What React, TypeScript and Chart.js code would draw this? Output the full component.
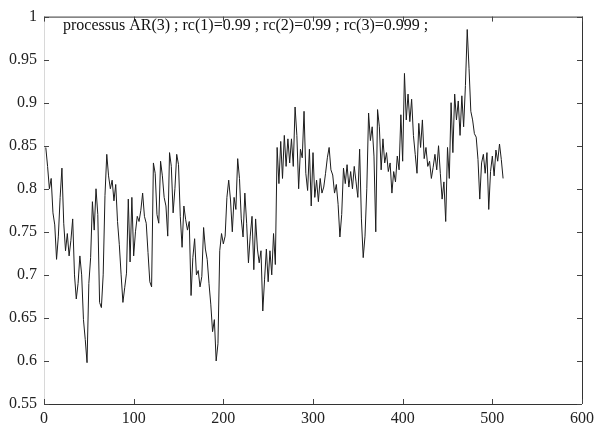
import { useEffect, useRef } from "react";
import { Chart, registerables } from "chart.js";

Chart.register(...registerables);

const TITLE = "processus AR(3) ; rc(1)=0.99 ; rc(2)=0.99 ; rc(3)=0.999 ;";
const xTicks = [0, 100, 200, 300, 400, 500, 600];
const yTicks = [0.55, 0.6, 0.65, 0.7, 0.75, 0.8, 0.85, 0.9, 0.95, 1];
const SAMPLE_STEP = 2;

// samples 2..128
const seg1 = [
  0.848, 0.826, 0.8, 0.812, 0.772, 0.758, 0.718, 0.745,
  0.79, 0.824, 0.76, 0.728, 0.748, 0.722, 0.74, 0.765,
  0.7, 0.672, 0.69, 0.722, 0.7, 0.648, 0.625, 0.598,
  0.69, 0.72, 0.785, 0.752, 0.8, 0.77, 0.668, 0.662,
  0.7, 0.792, 0.84, 0.815, 0.8, 0.81, 0.786, 0.805,
  0.762, 0.735, 0.7, 0.668, 0.685, 0.702, 0.788, 0.715,
  0.79, 0.722, 0.75, 0.768, 0.762, 0.775, 0.795, 0.768,
  0.76, 0.726, 0.692, 0.686, 0.83, 0.818, 0.77, 0.76,
];
// samples 130..256
const seg2 = [
  0.832, 0.815, 0.79, 0.78, 0.745, 0.842, 0.826, 0.772,
  0.8, 0.84, 0.828, 0.768, 0.732, 0.78, 0.764, 0.752,
  0.762, 0.676, 0.72, 0.742, 0.7, 0.705, 0.686, 0.698,
  0.755, 0.73, 0.718, 0.69, 0.666, 0.634, 0.648, 0.6,
  0.62, 0.728, 0.748, 0.736, 0.745, 0.79, 0.81, 0.787,
  0.75, 0.79, 0.776, 0.835, 0.812, 0.765, 0.744, 0.795,
  0.76, 0.714, 0.745, 0.768, 0.706, 0.765, 0.73, 0.714,
  0.728, 0.658, 0.695, 0.73, 0.692, 0.728, 0.7, 0.748,
];
// samples 258..384
const seg3 = [
  0.712, 0.848, 0.806, 0.855, 0.812, 0.862, 0.826, 0.858,
  0.83, 0.858, 0.826, 0.895, 0.862, 0.8, 0.846, 0.836,
  0.89, 0.818, 0.798, 0.846, 0.78, 0.842, 0.79, 0.81,
  0.785, 0.812, 0.795, 0.802, 0.818, 0.836, 0.848, 0.822,
  0.816, 0.795, 0.805, 0.782, 0.744, 0.77, 0.824, 0.806,
  0.828, 0.802, 0.82, 0.8, 0.826, 0.808, 0.79, 0.846,
  0.765, 0.72, 0.745, 0.8, 0.888, 0.856, 0.872, 0.838,
  0.75, 0.892, 0.872, 0.822, 0.858, 0.83, 0.842, 0.82,
];
// samples 386..512
const seg4 = [
  0.83, 0.795, 0.82, 0.808, 0.838, 0.822, 0.886, 0.832,
  0.934, 0.88, 0.91, 0.878, 0.904, 0.862, 0.84, 0.818,
  0.876, 0.848, 0.88, 0.835, 0.848, 0.826, 0.832, 0.812,
  0.825, 0.84, 0.822, 0.85, 0.818, 0.788, 0.808, 0.762,
  0.848, 0.812, 0.9, 0.842, 0.91, 0.88, 0.902, 0.862,
  0.908, 0.872, 0.92, 0.985, 0.94, 0.89, 0.88, 0.864,
  0.86, 0.834, 0.788, 0.83, 0.84, 0.818, 0.842, 0.776,
  0.82, 0.838, 0.815, 0.845, 0.832, 0.852, 0.834, 0.812,
];

const series = [...seg1, ...seg2, ...seg3, ...seg4];

const FONT = '"Liberation Serif", "Times New Roman", serif';

const framePlugin = {
  id: "frame",
  afterDraw(chart: any) {
    const { ctx, chartArea, scales } = chart;
    const { left, right, top, bottom } = chartArea;
    ctx.save();
    ctx.lineWidth = 1;
    // box
    ctx.strokeStyle = "#333";
    ctx.beginPath();
    ctx.moveTo(left, top + 0.5);
    ctx.lineTo(right, top + 0.5);
    ctx.moveTo(right + 0.5, top);
    ctx.lineTo(right + 0.5, bottom);
    ctx.moveTo(left, bottom + 0.5);
    ctx.lineTo(right, bottom + 0.5);
    ctx.stroke();
    ctx.strokeStyle = "#d8d8d8";
    ctx.beginPath();
    ctx.moveTo(left + 0.5, top);
    ctx.lineTo(left + 0.5, bottom);
    ctx.stroke();
    // inward ticks
    ctx.strokeStyle = "#444";
    ctx.beginPath();
    const tl = 5;
    xTicks.forEach((v) => {
      const x = Math.round(scales.x.getPixelForValue(v)) + 0.5;
      ctx.moveTo(x, bottom);
      ctx.lineTo(x, bottom - tl);
      ctx.moveTo(x, top);
      ctx.lineTo(x, top + tl);
    });
    yTicks.forEach((v) => {
      const y = Math.round(scales.y.getPixelForValue(v)) + 0.5;
      ctx.moveTo(left, y);
      ctx.lineTo(left + tl, y);
      ctx.moveTo(right, y);
      ctx.lineTo(right - tl, y);
    });
    ctx.stroke();
    // title inside plot
    ctx.fillStyle = "#111";
    ctx.font = `16px ${FONT}`;
    ctx.textAlign = "left";
    ctx.textBaseline = "alphabetic";
    ctx.fillText(TITLE, left + 19, top + 13);
    ctx.restore();
  },
};

export default function App() {
  const ref = useRef<HTMLCanvasElement | null>(null);

  useEffect(() => {
    if (!ref.current) return;
    const points = series.map((y, i) => ({ x: (i + 1) * SAMPLE_STEP, y }));
    const chart = new Chart(ref.current, {
      type: "line",
      data: {
        datasets: [
          {
            data: points,
            borderColor: "#1c1c1c",
            borderWidth: 1,
            pointRadius: 0,
            tension: 0,
            fill: false,
          },
        ],
      },
      options: {
        animation: false,
        responsive: false,
        maintainAspectRatio: false,
        layout: { padding: { top: 15, right: 21, left: 0, bottom: 0 } },
        plugins: {
          legend: { display: false },
          tooltip: { enabled: false },
          title: { display: false },
        },
        scales: {
          x: {
            type: "linear",
            min: 0,
            max: 600,
            afterBuildTicks: (s: any) => {
              s.ticks = xTicks.map((v) => ({ value: v }));
            },
            afterFit: (s: any) => {
              s.height = 25;
            },
            grid: { display: false, drawTicks: false },
            border: { display: false },
            ticks: {
              font: { family: FONT, size: 16 },
              color: "#222",
              padding: 5,
              maxRotation: 0,
              autoSkip: false,
              callback: (v: any) => String(v),
            },
          },
          y: {
            type: "linear",
            min: 0.55,
            max: 1,
            afterBuildTicks: (s: any) => {
              s.ticks = yTicks.map((v) => ({ value: v }));
            },
            afterFit: (s: any) => {
              s.width = 44;
            },
            grid: { display: false, drawTicks: false },
            border: { display: false },
            ticks: {
              font: { family: FONT, size: 16 },
              color: "#222",
              padding: 7,
              autoSkip: false,
              callback: (v: any) => String(Number(Number(v).toFixed(2))),
            },
          },
        },
      },
      plugins: [framePlugin],
    });
    return () => chart.destroy();
  }, []);

  return (
    <div style={{ position: "fixed", left: 0, top: 0, width: 603, height: 429, background: "#fff" }}>
      <canvas ref={ref} width={603} height={429} style={{ display: "block", width: 603, height: 429 }} />
    </div>
  );
}
